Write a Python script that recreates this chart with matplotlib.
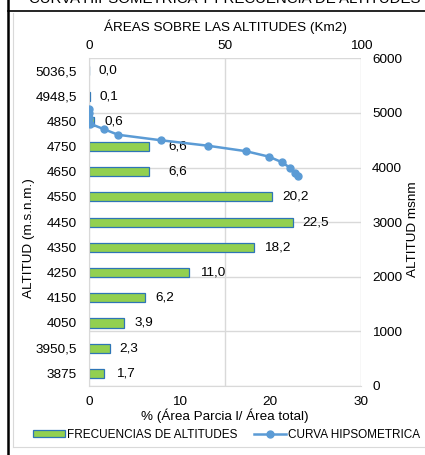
import matplotlib
matplotlib.use("Agg")
import matplotlib.pyplot as plt
import numpy as np
from matplotlib.lines import Line2D
from matplotlib.patches import Patch

plt.rcParams['font.family'] = ['Liberation Sans', 'DejaVu Sans']

# ---- data ----
alt_classes = ["5036,5", "4948,5", "4850", "4750", "4650", "4550", "4450",
               "4350", "4250", "4150", "4050", "3950,5", "3875"]
freq_pct = [0.0, 0.1, 0.6, 6.6, 6.6, 20.2, 22.5, 18.2, 11.0, 6.2, 3.9, 2.3, 1.7]
freq_labels = ["0,0", "0,1", "0,6", "6,6", "6,6", "20,2", "22,5", "18,2",
               "11,0", "6,2", "3,9", "2,3", "1,7"]

curve_area = [0, 0, 0.08, 0.54, 5.6, 10.7, 26.3, 43.6, 57.6, 66.1, 70.8, 73.8, 75.6, 76.9]
curve_alt = [5073, 5000, 4900, 4800, 4700, 4600, 4500, 4400, 4300, 4200, 4100, 4000, 3900, 3850]

bottom_ticks = [0, 10, 20, 30]
top_ticks = [0, 50, 100]
right_ticks = [0, 1000, 2000, 3000, 4000, 5000, 6000]

FS = 9.7
LFS = 8.5
GREEN = '#92D050'
EDGE = '#2E75B6'
LINE = '#5B9BD5'
GRID = '#D9D9D9'
TXT = '#000000'

W, H = 425, 455
fig = plt.figure(figsize=(W / 100, H / 100), dpi=100)

pos = [89 / W, 1 - 386 / H, (361 - 89) / W, (386 - 58.3) / H]

# grid / secondary axes (top & right)
axg = fig.add_axes(pos, zorder=0)
axg.set_xlim(0, 100)
axg.set_ylim(0, 6000)
axg.set_xticks(top_ticks)
axg.set_yticks(right_ticks)
axg.xaxis.tick_top()
axg.yaxis.tick_right()
axg.xaxis.set_label_position('top')
axg.yaxis.set_label_position('right')
axg.grid(True, color=GRID, linewidth=1.0)
axg.tick_params(length=0, labelsize=FS, colors=TXT)
axg.tick_params(axis='x', pad=4.8)
axg.tick_params(axis='y', pad=8)
for s in axg.spines.values():
    s.set_visible(False)
axg.set_xlabel("ÁREAS SOBRE LAS ALTITUDES (Km2)", fontsize=FS)
axg.xaxis.set_label_coords(0.5, 1.083)
axg.set_ylabel("ALTITUD msnm", fontsize=FS)
axg.yaxis.set_label_coords(1.17, 0.48)

# bar axes
ax = fig.add_axes(pos, zorder=1)
ax.patch.set_alpha(0)
y = np.arange(len(alt_classes))
ax.barh(y, freq_pct, height=0.36, color=GREEN, edgecolor=EDGE, linewidth=0.9)
ax.set_xlim(0, 30)
ax.set_ylim(len(alt_classes) - 0.5, -0.5)
ax.set_yticks(y)
ax.set_yticklabels(alt_classes)
ax.set_xticks(bottom_ticks)
ax.tick_params(length=0, labelsize=FS, colors=TXT)
ax.tick_params(axis='x', pad=7)
ax.tick_params(axis='y', pad=8.5)
for side in ['top', 'right']:
    ax.spines[side].set_visible(False)
ax.spines['left'].set_color(GRID)
ax.spines['bottom'].set_color(GRID)
ax.set_xlabel("% (Área Parcia l/ Área total)", fontsize=FS)
ax.xaxis.set_label_coords(0.5, -0.07)
ax.set_ylabel("ALTITUD (m.s.n.m.)", fontsize=FS)
ax.yaxis.set_label_coords(-0.2, 0.452)

label_dx = [7, 7, 7, 14, 14, 7, 7, 7, 8, 7, 7, 7, 8]
for yi, v, lab, dx in zip(y, freq_pct, freq_labels, label_dx):
    ax.annotate(lab, (v, yi), xytext=(dx, 0), textcoords='offset points',
                va='center', ha='left', fontsize=FS, color=TXT)

# curve axes
axc = fig.add_axes(pos, zorder=2)
axc.patch.set_alpha(0)
axc.set_xlim(0, 100)
axc.set_ylim(0, 6000)
axc.plot(curve_area, curve_alt, color=LINE, linewidth=1.8, marker='o',
         markersize=5, markerfacecolor=LINE, markeredgecolor=LINE)
axc.axis('off')

# legend
handles = [Patch(facecolor=GREEN, edgecolor=EDGE, linewidth=0.9),
           Line2D([], [], color=LINE, linewidth=1.8, marker='o', markersize=5)]
fig.legend(handles, ["FRECUENCIAS DE ALTITUDES", "CURVA HIPSOMETRICA"],
           loc='center', bbox_to_anchor=(226.5 / W, 1 - 435 / H), ncol=2,
           frameon=False, fontsize=LFS, handlelength=2.7, handletextpad=0.2,
           columnspacing=1.4, handleheight=0.55)

# clipped title (cut by the top edge, as in the source image)
fig.text(225 / W, 1 - 3.4 / H, "CURVA HIPSOMETRICA Y FRECUENCIA DE ALTITUDES",
         ha='center', va='baseline', fontsize=10.8, color=TXT)

# frame decorations
fig.add_artist(Line2D([12.5 / W, 12.5 / W], [1 - 447 / H, 1 - 13 / H], color='#D9D9D9', linewidth=0.8))
fig.add_artist(Line2D([12.5 / W, 1], [1 - 447 / H, 1 - 447 / H], color='#D9D9D9', linewidth=0.8))
fig.add_artist(Line2D([8 / W, 8 / W], [0, 1], color='black', linewidth=1.8))
fig.add_artist(Line2D([8 / W, 1], [1 - 10.5 / H, 1 - 10.5 / H], color='black', linewidth=1.2))

fig.savefig("out.png", dpi=100)
